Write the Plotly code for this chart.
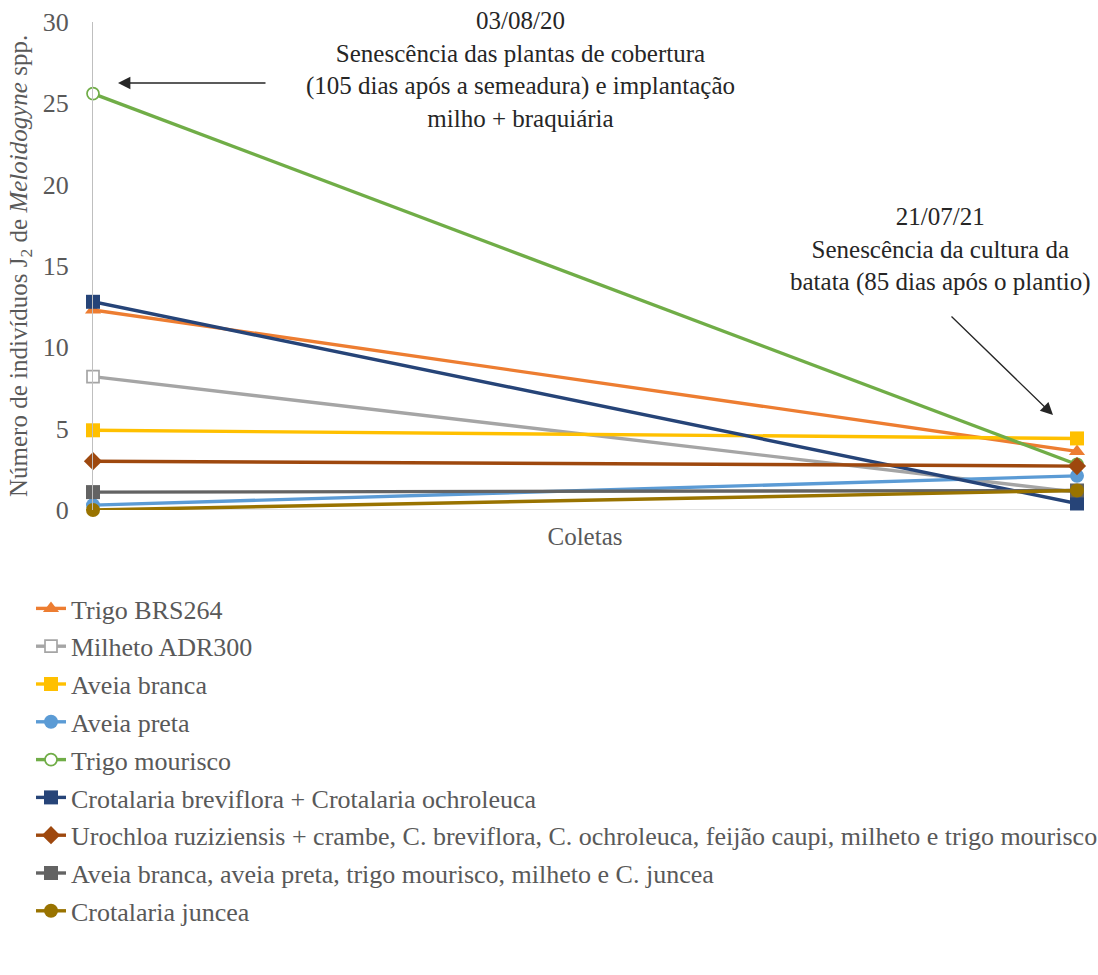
import plotly.graph_objects as go

# Two sampling dates (Coletas)
coletas = [0, 1]

series_names = [
    "Trigo BRS264",
    "Milheto ADR300",
    "Aveia branca",
    "Aveia preta",
    "Trigo mourisco",
    "Crotalaria breviflora + Crotalaria ochroleuca",
    "Urochloa ruziziensis + crambe, C. breviflora, C. ochroleuca, feijão caupi, milheto e trigo mourisco",
    "Aveia branca, aveia preta, trigo mourisco, milheto e C. juncea",
    "Crotalaria juncea",
]

# J2 counts of Meloidogyne spp. at each sampling date
trigo_brs264 = [12.3, 3.6]
milheto_adr300 = [8.2, 1.1]
aveia_branca = [4.9, 4.4]
aveia_preta = [0.3, 2.1]
trigo_mourisco = [25.6, 2.8]
crotalaria_brev_ochro = [12.8, 0.4]
urochloa_mix = [3.0, 2.7]
aveia_mix = [1.1, 1.2]
crotalaria_juncea = [0.0, 1.2]

values = [trigo_brs264, milheto_adr300, aveia_branca, aveia_preta, trigo_mourisco,
          crotalaria_brev_ochro, urochloa_mix, aveia_mix, crotalaria_juncea]

colors = ["#ED7D31", "#A5A5A5", "#FFC000", "#5B9BD5", "#70AD47",
          "#264478", "#9E480E", "#636363", "#997300"]
symbols = ["triangle-up", "square", "square", "circle", "circle",
           "square", "diamond", "square", "circle"]
hollow = [False, True, False, False, True, False, False, False, False]

FONT = "Liberation Serif, serif"
TXT = "#595959"
NOTE = "#262626"
FS = 25

fig = go.Figure()
for i, (name, vals) in enumerate(zip(series_names, values)):
    fig.add_trace(go.Scatter(
        x=coletas, y=vals, name=name, mode="lines+markers",
        line=dict(color=colors[i], width=3.4),
        marker=dict(symbol=symbols[i], size=12 if hollow[i] else 14,
                    color="white" if hollow[i] else colors[i],
                    line=dict(color=colors[i], width=1.7 if hollow[i] else 0)),
        cliponaxis=False, legendgroup=f"g{i}",
    ))

fig.update_layout(
    width=1098, height=975,
    paper_bgcolor="white", plot_bgcolor="white",
    margin=dict(l=93, r=21, t=22, b=465, autoexpand=False),
    font=dict(family=FONT, size=FS, color=TXT),
    showlegend=True,
    legend=dict(
        orientation="v", xref="container", yref="container",
        x=31 / 1098, y=1 - 585 / 975, xanchor="left", yanchor="top",
        font=dict(family=FONT, size=26, color=TXT),
        tracegroupgap=1, itemwidth=30, bgcolor="rgba(0,0,0,0)",
    ),
    xaxis=dict(
        range=[0, 1], showticklabels=False, ticks="", showgrid=False, zeroline=False,
        showline=False,
        title=dict(text="Coletas", font=dict(family=FONT, size=FS, color=TXT), standoff=17),
    ),
    yaxis=dict(
        range=[0, 30], dtick=5, showgrid=False, zeroline=False,
        showline=True, linecolor="#BFBFBF", linewidth=1.2,
        ticks="", ticklabelstandoff=18,
        tickfont=dict(family=FONT, size=26, color=TXT),
    ),
)

# vertical axis title
fig.add_annotation(
    xref="paper", yref="paper", x=(20 - 93) / 984, y=0.5,
    xanchor="center", yanchor="middle", textangle=-90, showarrow=False,
    text="Número de indivíduos J<sub>2</sub> de <i>Meloidogyne</i> spp.",
    font=dict(family=FONT, size=FS, color=TXT),
)

# horizontal category axis line at zero
fig.add_shape(type="line", xref="x", yref="y", x0=0, x1=1, y0=0, y1=0,
              line=dict(color="#D9D9D9", width=1.6), layer="below")

# event notes with arrows
fig.add_annotation(
    xref="paper", yref="paper", x=(520 - 93) / 984, y=(510 - 69) / 488,
    xanchor="center", yanchor="middle",
    text="03/08/20<br>Senescência das plantas de cobertura<br>(105 dias após a semeadura) e implantação<br>milho + braquiária",
    showarrow=False, font=dict(family=FONT, size=FS, color=NOTE), align="center",
)
fig.add_annotation(
    xref="paper", yref="paper", x=(118 - 93) / 984, y=(510 - 83) / 488,
    ax=149, ay=0, showarrow=True, arrowhead=2, arrowsize=1.9, arrowwidth=1.3,
    arrowcolor=NOTE, text="",
)
fig.add_annotation(
    xref="paper", yref="paper", x=(940 - 93) / 984, y=(510 - 250) / 488,
    xanchor="center", yanchor="middle",
    text="21/07/21<br>Senescência da cultura da<br>batata (85 dias após o plantio)",
    showarrow=False, font=dict(family=FONT, size=FS, color=NOTE), align="center",
)
fig.add_annotation(
    xref="paper", yref="paper", x=(1053 - 93) / 984, y=(510 - 415) / 488,
    ax=-103, ay=-100, showarrow=True, arrowhead=2, arrowsize=1.9, arrowwidth=1.3,
    arrowcolor=NOTE, text="",
)

fig.write_html("out.html")
